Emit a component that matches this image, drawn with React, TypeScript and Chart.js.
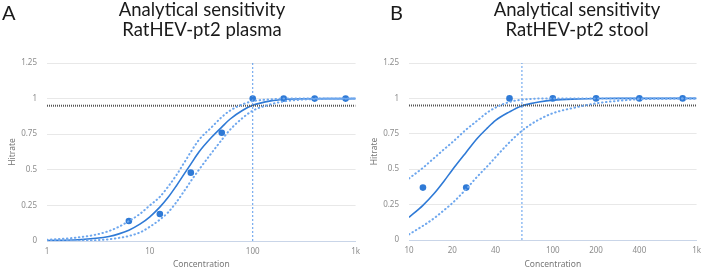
import React, { useEffect, useRef } from "react";
import { Chart, registerables } from "chart.js";

Chart.register(...registerables);

// Plasma dilution series (copies/ml) and observed hit rates
const plasmaConc = [6.25, 12.5, 25, 50, 100, 200, 400, 800];
const plasmaHit = [0.14, 0.19, 0.48, 0.76, 1, 1, 1, 1];
// Fitted probit curve for plasma with its confidence band
const plasmaCurveX = [1, 2, 3, 4, 5, 6.25, 8, 10, 12.5, 15, 18, 22, 25, 30, 40, 50, 60, 80, 100, 150, 200, 300, 500, 1000];
const plasmaFit = [0.003, 0.009, 0.019, 0.032, 0.05, 0.076, 0.118, 0.17, 0.238, 0.305, 0.385, 0.48, 0.54, 0.625, 0.73, 0.8, 0.855, 0.918, 0.953, 0.984, 0.994, 0.999, 1, 1];
const plasmaUpper = [0.008, 0.025, 0.045, 0.07, 0.1, 0.14, 0.19, 0.25, 0.31, 0.38, 0.46, 0.56, 0.625, 0.71, 0.8, 0.87, 0.915, 0.96, 0.982, 0.995, 1, 1, 1, 1];
const plasmaLower = [0, 0.002, 0.006, 0.012, 0.022, 0.035, 0.06, 0.1, 0.15, 0.2, 0.27, 0.36, 0.42, 0.5, 0.62, 0.71, 0.78, 0.865, 0.915, 0.96, 0.98, 0.993, 0.998, 1];
const plasmaLod = 100;
const plasmaTicks = [1, 10, 100, 1000];

// Stool dilution series and observed hit rates
const stoolConc = [12.5, 25, 50, 100, 200, 400, 800];
const stoolHit = [0.37, 0.37, 1, 1, 1, 1, 1];
const stoolCurveX = [10, 12.5, 15, 17.5, 20, 25, 30, 35, 40, 50, 60, 70, 80, 100, 150, 200, 300, 400, 500, 1000];
const stoolFit = [0.16, 0.245, 0.33, 0.415, 0.495, 0.62, 0.72, 0.79, 0.845, 0.905, 0.945, 0.963, 0.975, 0.988, 0.996, 0.999, 1, 1, 1, 1];
const stoolUpper = [0.435, 0.51, 0.58, 0.64, 0.69, 0.78, 0.845, 0.9, 0.935, 0.975, 0.99, 0.996, 0.999, 1, 1, 1, 1, 1, 1, 1];
const stoolLower = [0.04, 0.1, 0.155, 0.21, 0.26, 0.36, 0.45, 0.52, 0.585, 0.69, 0.765, 0.815, 0.85, 0.895, 0.94, 0.965, 0.985, 0.994, 0.997, 1];
const stoolLod = 61;
const stoolTicks = [10, 20, 40, 100, 200, 400, 1000];

const hitThreshold = 0.95;
const yTicks = [0, 0.25, 0.5, 0.75, 1, 1.25];

const BLUE = "#2f7ad6";
const BAND = "#6ea7ee";
const TICK_COLOR = "#8c8c8c";
const FONT = "'Noto Sans', sans-serif";

type PanelProps = {
  left: number;
  width: number;
  yWidth: number;
  xHeight: number;
  yTitlePad: number;
  conc: number[];
  hits: number[];
  curveX: number[];
  fit: number[];
  upper: number[];
  lower: number[];
  lod: number;
  xTicks: number[];
};

const toXY = (xs: number[], ys: number[]) => xs.map((x, i) => ({ x, y: ys[i] }));
const fmtConc = (v: number) => (v >= 1000 ? `${v / 1000}k` : `${v}`);

function Panel(p: PanelProps) {
  const ref = useRef<HTMLCanvasElement | null>(null);

  useEffect(() => {
    if (!ref.current) return;
    const xMin = p.curveX[0];
    const xMax = p.curveX[p.curveX.length - 1];
    const band = {
      showLine: true,
      pointRadius: 0,
      borderColor: BAND,
      borderWidth: 2,
      borderDash: [0.5, 3.5],
      borderCapStyle: "round",
      cubicInterpolationMode: "monotone",
    };
    const chart = new Chart(ref.current, {
      type: "scatter",
      data: {
        datasets: [
          { ...band, data: toXY(p.curveX, p.upper) },
          { ...band, data: toXY(p.curveX, p.lower) },
          {
            data: [
              { x: xMin, y: hitThreshold },
              { x: xMax, y: hitThreshold },
            ],
            showLine: true,
            pointRadius: 0,
            borderColor: "#555555",
            borderWidth: 2,
            borderDash: [1, 1],
          },
          {
            data: [
              { x: p.lod, y: 0 },
              { x: p.lod, y: yTicks[yTicks.length - 1] },
            ],
            showLine: true,
            pointRadius: 0,
            borderColor: "#5b9bec",
            borderWidth: 1,
            borderDash: [2, 2],
          },
          {
            data: toXY(p.curveX, p.fit),
            showLine: true,
            pointRadius: 0,
            borderColor: BLUE,
            borderWidth: 1.6,
            cubicInterpolationMode: "monotone",
          },
          {
            data: toXY(p.conc, p.hits),
            showLine: false,
            pointRadius: 3.3,
            pointBackgroundColor: BLUE,
            pointBorderWidth: 0,
          },
        ],
      },
      options: {
        responsive: false,
        animation: false,
        layout: { padding: { top: 63, right: 0, bottom: 0, left: 0 } },
        plugins: { legend: { display: false }, tooltip: { enabled: false } },
        scales: {
          x: {
            type: "logarithmic",
            min: xMin,
            max: xMax,
            afterFit: (s: any) => {
              s.height = p.xHeight;
            },
            afterBuildTicks: (s: any) => {
              s.ticks = p.xTicks.map((v) => ({ value: v }));
            },
            grid: { display: false, drawTicks: false },
            border: { display: true, color: "#c9d5e8", width: 1 },
            ticks: {
              color: TICK_COLOR,
              font: { family: FONT, size: 8 },
              padding: 6,
              autoSkip: false,
              maxRotation: 0,
              callback: (v: any) => fmtConc(Number(v)),
            },
            title: {
              display: true,
              text: "Concentration",
              color: "#777",
              font: { family: FONT, size: 8.5 },
              padding: { top: 0, bottom: 0 },
            },
          },
          y: {
            min: 0,
            max: 1.25,
            afterFit: (s: any) => {
              s.width = p.yWidth;
            },
            afterBuildTicks: (s: any) => {
              s.ticks = yTicks.map((v) => ({ value: v }));
            },
            grid: { color: "#e8e8e8", drawTicks: false, lineWidth: 1 },
            border: { display: false },
            ticks: {
              color: TICK_COLOR,
              font: { family: FONT, size: 8 },
              padding: 10,
              callback: (v: any) => String(v),
            },
            title: {
              display: true,
              text: "Hitrate",
              color: "#777",
              font: { family: FONT, size: 8.5 },
              padding: { top: p.yTitlePad, bottom: 0 },
            },
          },
        },
      },
    } as any);
    return () => chart.destroy();
  }, []);

  return (
    <canvas
      ref={ref}
      width={p.width}
      height={270}
      style={{ position: "absolute", left: p.left, top: 0, width: p.width, height: 270 }}
    />
  );
}

const titleStyle: React.CSSProperties = {
  position: "absolute",
  top: 0,
  width: 260,
  textAlign: "center",
  fontFamily: "Lato, sans-serif",
  fontSize: 18.5,
  lineHeight: "19.5px",
  color: "#1a1a1a",
};

const letterStyle: React.CSSProperties = {
  position: "absolute",
  top: 0,
  fontFamily: "Lato, sans-serif",
  fontSize: 20,
  lineHeight: "24px",
  color: "#1a1a1a",
};

export default function App() {
  return (
    <div
      style={{
        position: "fixed",
        left: 0,
        top: 0,
        width: 702,
        height: 270,
        background: "#fff",
        overflow: "hidden",
      }}
    >
      <Panel
        left={0}
        width={366}
        yWidth={47}
        xHeight={29}
        yTitlePad={7}
        conc={plasmaConc}
        hits={plasmaHit}
        curveX={plasmaCurveX}
        fit={plasmaFit}
        upper={plasmaUpper}
        lower={plasmaLower}
        lod={plasmaLod}
        xTicks={plasmaTicks}
      />
      <Panel
        left={360}
        width={347}
        yWidth={49}
        xHeight={30}
        yTitlePad={9}
        conc={stoolConc}
        hits={stoolHit}
        curveX={stoolCurveX}
        fit={stoolFit}
        upper={stoolUpper}
        lower={stoolLower}
        lod={stoolLod}
        xTicks={stoolTicks}
      />
      <div style={{ ...letterStyle, left: 2 }}>A</div>
      <div style={{ ...titleStyle, left: 202 - 130 }}>
        Analytical sensitivity
        <br />
        RatHEV-pt2 plasma
      </div>
      <div style={{ ...letterStyle, left: 390 }}>B</div>
      <div style={{ ...titleStyle, left: 577 - 130 }}>
        Analytical sensitivity
        <br />
        RatHEV-pt2 stool
      </div>
    </div>
  );
}
